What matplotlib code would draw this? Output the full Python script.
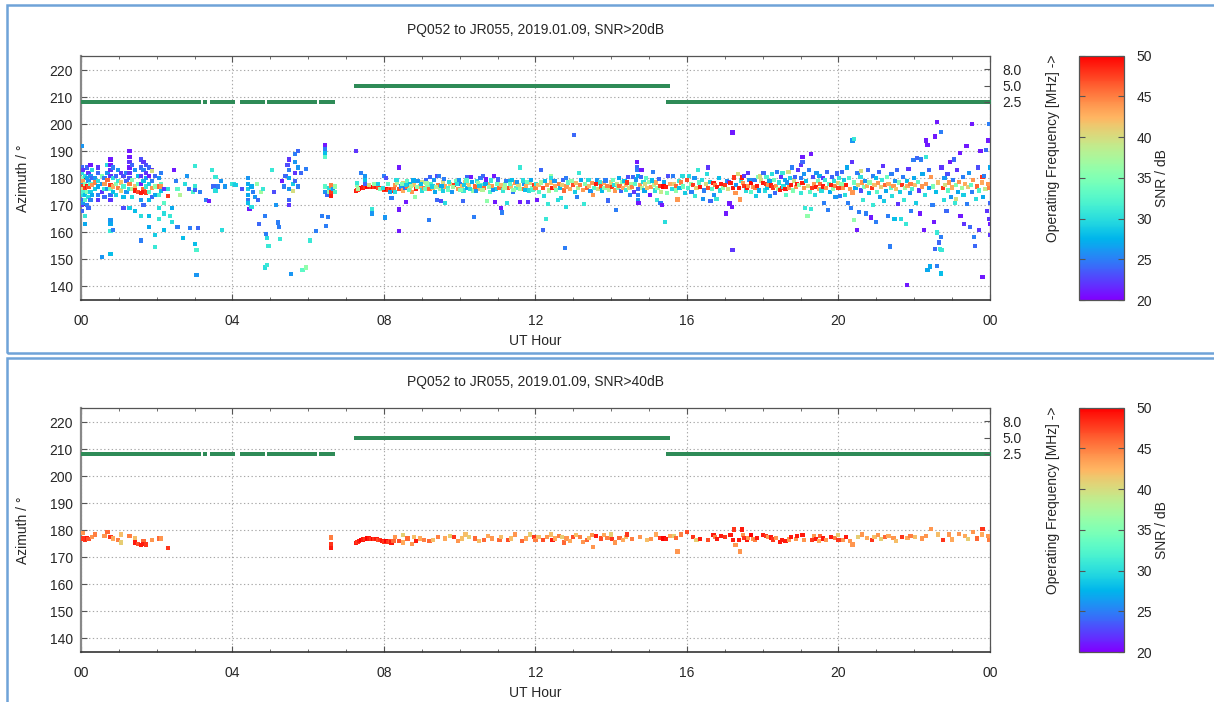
import numpy as np
import matplotlib
matplotlib.use("Agg")
import matplotlib.pyplot as plt
from matplotlib.patches import Rectangle

plt.rcParams['font.family'] = ['Liberation Sans', 'DejaVu Sans']

# --- spots: "hour azimuth snr" triples ---
seg_00_02 = """
0.02 192 26, 0.02 184 24, 0.02 182 30, 0.02 180 35, 0.02 178 28, 0.02 176 26, 0.02 174 30, 0.02 172 24,
0.02 170 22, 0.02 168 24, 0.05 183 22, 0.05 179 44, 0.05 177 48, 0.05 176 40, 0.05 175 32, 0.05 171 26,
0.10 181 30, 0.10 178 36, 0.10 176.5 48, 0.10 174 28, 0.10 172 33, 0.10 166 31, 0.10 163 27,
0.15 184 24, 0.15 180 27, 0.15 177 49, 0.15 175 35, 0.15 170 25, 0.20 182 22, 0.20 179 26, 0.20 176.8 47,
0.20 173 30, 0.20 169 24, 0.25 185 21, 0.25 181 26, 0.25 178 33, 0.25 175 29, 0.25 172 25,
0.30 183 30, 0.30 180 24, 0.30 177.5 44, 0.30 174 27, 0.38 180 26, 0.38 176 29, 0.38 178.5 45,
0.45 184 22, 0.45 182 24, 0.45 179 30, 0.45 177 27, 0.45 174 25, 0.45 172 22, 0.55 181 35, 0.55 178 26,
0.55 175 22, 0.55 151 26, 0.62 180 25, 0.62 178 44, 0.62 176 31, 0.62 173 24, 0.70 179.5 46, 0.70 185 30,
0.70 182 26, 0.70 176 26, 0.78 187 21, 0.78 185 21, 0.78 183 22, 0.78 181 22, 0.78 177.5 48, 0.78 176 34,
0.78 174 24, 0.78 172 22, 0.78 164.5 26, 0.78 163 27, 0.78 160.5 31, 0.78 152 28, 0.85 184 25, 0.85 180 30,
0.85 177 43, 0.85 175 28, 0.85 161 25, 0.92 178 36, 0.92 174 29, 0.92 181 24, 0.98 176.5 45, 0.98 183 26,
0.98 179 31, 1.05 178.5 42, 1.05 182 22, 1.05 175.5 41, 1.12 181 23, 1.12 177 32, 1.12 173 28, 1.12 169 23,
1.20 182 25, 1.20 179 24, 1.20 175 26, 1.28 190 21, 1.28 188 21, 1.28 186 22, 1.28 184 21, 1.28 182 22,
1.28 180 23, 1.28 178 25, 1.28 176 30, 1.28 169 29, 1.28 177.8 45, 1.35 185 24, 1.35 179.5 35, 1.35 176 38,
1.35 173 30, 1.42 183 26, 1.42 177 42, 1.42 175.5 49, 1.42 168 28, 1.50 175 47, 1.50 181 28, 1.50 178 33,
1.58 187 23, 1.58 184 24, 1.58 181 22, 1.58 178 21, 1.58 174.5 49, 1.58 172 26, 1.58 166 30, 1.58 157 25,
1.65 186 22, 1.65 183 25, 1.65 179 28, 1.65 176 46, 1.65 175 49, 1.65 170 24, 1.72 185 23, 1.72 182 22,
1.72 180 26, 1.72 177 31, 1.72 174.8 48, 1.80 184 24, 1.80 181 21, 1.80 178 29, 1.80 175 33, 1.80 172 28,
1.80 166 28, 1.80 162 27, 1.88 183 22, 1.88 179 25, 1.88 176.5 44, 1.88 173 24, 1.88 182.6 40,
1.95 181 24, 1.95 177 36, 1.95 174 27, 1.95 159 29, 1.95 154.5 31, 2.05 180 26, 2.05 177 46, 2.05 174 32,
2.05 169 30, 2.05 165 31, 2.12 182 25, 2.12 178 33, 2.12 175.5 28, 2.12 177 44, 2.20 176 22, 2.20 171 33,
2.20 167 30, 2.20 161 28, 2.30 173.6 48
"""

seg_02_07 = """
2.30 176 30, 2.35 166 31, 2.40 169 27, 2.40 164 30, 2.45 183 21, 2.50 179 25, 2.55 162 25, 2.55 176 33,
2.62 174 38, 2.70 158 28, 2.75 178 30, 2.80 181 26, 2.85 176 24, 2.88 161.5 25, 2.95 175 32, 3.00 184.7 31,
3.00 177 31, 3.00 175.7 24, 3.02 155.7 28, 3.05 153.5 32, 3.05 144.3 26, 3.10 161.5 24, 3.15 175 25,
3.30 172 25, 3.38 171.6 21, 3.45 183 31, 3.50 177 24, 3.55 180.6 31, 3.55 175.5 30, 3.62 177 25,
3.70 179 26, 3.72 161 30, 3.80 177 26, 4.00 178 31, 4.03 178 30, 4.08 177.5 29, 4.25 176 23,
4.40 180 26, 4.40 178 27, 4.40 176 29, 4.40 174 27, 4.40 172 25, 4.40 171 28, 4.45 168.6 21, 4.50 169.5 30,
4.50 177 27, 4.55 175 25, 4.60 173 26, 4.65 178 36, 4.68 172 24, 4.70 163 24, 4.75 175 37, 4.80 176 31,
4.85 166 25, 4.88 159.5 25, 4.92 158 30, 4.95 155 31, 4.85 147 30, 4.90 148 31, 5.05 183 31, 5.10 175 23,
5.15 170 26, 5.20 163.7 25, 5.22 162 25, 5.25 157.5 31, 5.30 179 21, 5.35 177 25, 5.40 181 24, 5.45 185 23,
5.50 187 22, 5.50 183 25, 5.50 180 27, 5.50 176 26, 5.50 172 24, 5.50 170 22, 5.55 144.6 26, 5.60 175.4 40,
5.60 178 29, 5.65 189 25, 5.65 186 26, 5.65 182 22, 5.65 179 24, 5.72 190 24, 5.72 184 26, 5.72 177 25,
5.80 182 24, 5.85 146 33, 5.95 147 36, 5.95 183.5 25, 6.04 157 31, 6.20 160.5 25, 6.37 166 25,
6.46 162.5 25, 6.53 165.6 25, 6.45 192.5 21, 6.45 191 25, 6.45 189.5 28, 6.45 188 33, 6.45 177 33,
6.45 175 26, 6.50 174 24, 6.55 176.5 30, 6.55 175 36, 6.60 177.4 45, 6.60 174.8 48, 6.60 173.6 49,
6.65 176 26, 6.70 175 32, 6.70 177 36
"""

seg_07_12 = """
7.27 175.4 49, 7.30 175.8 48, 7.35 176.2 49, 7.40 176.5 50, 7.45 176.6 49, 7.50 176.8 48, 7.55 177 50,
7.60 177 49, 7.65 176.8 48, 7.70 176.9 50, 7.75 176.8 48, 7.80 176.7 49, 7.85 176.5 47, 7.90 176.3 48,
7.95 176 49, 8.00 175.8 48, 8.05 176.2 50, 8.10 175.6 48, 8.15 176 47, 8.20 175.5 49, 8.25 176 46,
7.27 190 22, 7.28 177.5 36, 7.28 178.3 31, 7.32 176 38, 7.40 182 25, 7.50 181 26, 7.50 179.5 28,
7.50 178 24, 7.60 177.5 40, 7.68 168.7 31, 7.68 167 26, 7.75 177.8 36, 7.85 178 29, 7.90 176 35,
7.98 176.5 30, 8.00 181 25, 8.02 165.5 26, 8.05 180 23, 8.10 178 33, 8.15 175 27, 8.20 172.6 25,
8.30 177.5 44, 8.30 175 30, 8.35 178.5 38, 8.40 184 21, 8.40 176 47, 8.40 168.5 21, 8.40 160.5 21,
8.45 177 26, 8.50 178.2 41, 8.50 175.5 43, 8.55 176.5 24, 8.58 171.4 21, 8.60 179 33, 8.62 177 46,
8.68 176 39, 8.70 178 28, 8.75 175 44, 8.80 177.5 42, 8.82 173 36, 8.85 176 49, 8.90 179 26, 8.95 177 43,
9.00 175.5 30, 9.00 178.6 40, 9.05 176.5 45, 9.10 179.5 24, 9.15 177 35, 9.18 164.7 25, 9.20 176 46,
9.22 180.5 24, 9.25 178 32, 9.30 176.5 42, 9.35 175 27, 9.40 181 23, 9.40 172 24, 9.42 177.5 45,
9.45 180.8 25, 9.48 176 37, 9.50 171.6 23, 9.55 178.5 40, 9.55 175.5 29, 9.60 171 30, 9.62 177 43,
9.70 176.5 32, 9.75 178 41, 9.80 175 26, 9.85 177.5 48, 9.90 179 34, 9.95 176 44, 10.00 178 25,
10.05 177 42, 10.08 171.5 24, 10.10 175.5 31, 10.15 178.5 42, 10.20 180.5 24, 10.20 176.5 27,
10.25 177.5 41, 10.30 180.5 21, 10.35 175.5 36, 10.38 165.6 25, 10.40 177 46, 10.45 179 30, 10.50 176 42,
10.55 180.2 25, 10.58 177.5 33, 10.62 181 24, 10.65 176.5 46, 10.70 179.6 21, 10.72 171.5 36,
10.75 178 43, 10.80 175 33, 10.85 177 44, 10.90 181 21, 10.92 171.4 21, 10.95 176 29, 11.00 178.5 38,
11.05 176.5 46, 11.08 169 21, 11.10 177.5 42, 11.12 167.4 25, 11.15 175.5 31, 11.20 178 36, 11.25 171 30,
11.28 176.5 47, 11.30 179 28, 11.35 177 42, 11.40 175 25, 11.45 178.5 44, 11.50 176.5 32, 11.55 177.5 40,
11.60 184 31, 11.60 171.3 21, 11.65 176 46, 11.70 178 26, 11.75 177 43, 11.80 171.3 22, 11.82 175.5 30,
11.85 178.5 41, 11.90 176.5 35, 11.95 177.5 48,
8.33 179.3 30, 8.48 178 35, 8.57 177.5 29, 8.65 175.8 33, 8.72 177.3 38, 8.78 179.2 27, 8.88 176.8 36,
8.98 177.8 28, 9.08 176 34, 9.12 178.3 37, 9.28 177 29, 9.33 179.4 26, 9.38 176.8 38, 9.52 177.3 27,
9.58 179.8 25, 9.68 175.8 34, 9.72 178.6 30, 9.82 176.8 37, 9.92 177.8 30, 9.98 179.5 26, 10.02 175.8 35,
10.12 177.6 29, 10.18 179.2 33, 10.28 176 30, 10.32 178.6 27, 10.42 175.3 26, 10.48 178.2 36,
10.52 177.3 29, 10.60 175.8 38, 10.68 178 27, 10.78 176.8 36, 10.82 179.2 31, 10.88 175.8 26,
10.98 177.8 34, 11.02 179.6 24, 11.18 176.4 38, 11.22 179 25, 11.32 177.8 33, 11.38 179.4 28,
11.42 175.8 36, 11.52 178.8 26, 11.58 176.2 37, 11.68 179.2 30, 11.72 175.6 28, 11.78 178.7 34,
11.88 179.4 27, 11.92 175.8 32
"""

seg_12_16 = """
12.00 176.5 45, 12.02 178 31, 12.05 172 21, 12.08 177.5 42, 12.10 175 33, 12.14 183 24, 12.15 178.5 37,
12.20 161 24, 12.20 176.5 47, 12.22 173.6 30, 12.25 179 28, 12.28 165 31, 12.30 177.5 44, 12.32 170.6 31,
12.35 175.5 38, 12.40 181 36, 12.40 178.5 42, 12.42 180 30, 12.45 176.5 49, 12.50 179 26, 12.52 177 43,
12.55 175.8 35, 12.60 172 30, 12.62 178 45, 12.65 176.3 28, 12.68 172.6 30, 12.70 177.5 41, 12.72 179.5 24,
12.75 175.5 46, 12.78 154.2 25, 12.80 180 25, 12.80 169.5 30, 12.82 177 44, 12.85 178.5 33, 12.90 176 43,
12.95 179 36, 13.00 177.5 47, 13.02 196 24, 13.05 175 29, 13.08 178.3 42, 13.10 173 25, 13.12 176.5 38,
13.15 182 31, 13.18 177.5 45, 13.20 179.5 27, 13.25 175.8 44, 13.28 170.4 31, 13.30 178 35, 13.35 176.5 46,
13.40 179.3 30, 13.42 177.2 42, 13.45 175.3 26, 13.50 178.3 44, 13.52 174 44, 13.55 176.5 33, 13.60 177.8 49,
13.62 179.5 26, 13.65 176 40, 13.70 178.5 31, 13.72 177 47, 13.75 175.5 28, 13.80 178.2 43, 13.82 176.5 36,
13.85 179.2 25, 13.90 177.3 45, 13.92 171.8 24, 13.95 175.8 38, 14.00 178.5 41, 14.02 176.8 48,
14.05 179.5 34, 14.08 177.5 30, 14.10 175.5 44, 14.12 168.4 25, 14.15 178 40, 14.18 176.5 35, 14.20 180 27,
14.22 177.3 46, 14.25 175.3 24, 14.28 178.7 36, 14.30 176.3 43, 14.35 179 28, 14.38 177.5 42, 14.40 175.8 31,
14.42 178.5 48, 14.45 180.5 23, 14.48 176.5 40, 14.50 174 25, 14.52 178 37, 14.55 176.8 45, 14.58 180.6 24,
14.60 175 22, 14.62 177.8 33, 14.65 179.6 26, 14.68 186 21, 14.68 184 24, 14.68 183 25, 14.70 181 27,
14.70 176 24, 14.70 174 25, 14.70 172 26, 14.72 171 21, 14.75 177.5 44, 14.78 180.6 24, 14.80 183 21,
14.82 176.5 38, 14.85 178.8 30, 14.88 175.5 27, 14.90 177.8 40, 14.92 180 33, 14.95 176.3 42, 15.00 178.7 36,
15.02 174 21, 15.05 176.8 44, 15.08 179.2 28, 15.10 182.5 25, 15.12 177.5 38, 15.15 175.5 30, 15.18 178.5 43,
15.20 172 31, 15.22 176.5 36, 15.25 179.8 24, 15.28 177.2 48, 15.30 171 25, 15.32 175 39, 15.35 170 21,
15.38 177 50, 15.40 178.8 27, 15.42 164 30, 15.45 176.8 49, 15.48 174.5 35, 15.50 181 23
"""

seg_16_20 = """
15.55 177.8 43, 15.60 176 30, 15.62 181 25, 15.65 178 41, 15.70 175.5 36, 15.72 177.3 46, 15.75 172.2 44,
15.78 179 31, 15.80 176.5 28, 15.85 178.5 45, 15.88 181 30, 15.90 177 34, 15.95 174.5 29, 16.00 179.5 47,
16.02 176.5 32, 16.05 181 30, 16.10 178 36, 16.12 175 25, 16.15 177.5 48, 16.20 180 26, 16.22 173.5 31,
16.25 176.5 41, 16.30 183 31, 16.32 178.5 33, 16.35 176.8 49, 16.40 179.5 30, 16.42 172.5 26, 16.45 175.5 25,
16.50 177.8 40, 16.52 181.5 30, 16.55 184 22, 16.55 176.5 47, 16.60 178.8 29, 16.62 171.6 24, 16.65 176 33,
16.70 178.3 49, 16.72 174 26, 16.75 177.5 45, 16.78 172.4 31, 16.80 176.7 49, 16.85 180 28, 16.88 175.5 30,
16.90 178 49, 16.95 176.5 36, 17.00 177.7 48, 17.02 167 21, 17.05 179 26, 17.08 176 40, 17.10 178.6 22,
17.12 170.7 21, 17.15 178.2 49, 17.18 169.5 21, 17.20 197 21, 17.20 153.6 22, 17.22 176.5 49, 17.25 180.3 48,
17.28 174.7 44, 17.30 177.5 26, 17.35 181.5 40, 17.38 176.5 49, 17.40 172.2 44, 17.42 179 31, 17.45 180.3 49,
17.48 178.3 44, 17.50 181 22, 17.52 177.3 48, 17.55 175.5 30, 17.58 176.3 49, 17.60 182 22, 17.62 177.3 44,
17.65 179.5 26, 17.68 178.3 50, 17.70 175 33, 17.75 176.8 44, 17.78 179.5 25, 17.80 176.5 45, 17.82 173.5 29,
17.85 177.3 49, 17.88 180.5 35, 17.90 175.5 27, 17.92 180.7 40, 17.95 179 40,
18.00 178.2 49, 18.02 182 24, 18.05 175.5 30, 18.08 178 48, 18.10 180.5 32, 18.12 176.5 28, 18.15 177.5 44,
18.18 179 27, 18.20 173.5 26, 18.22 177.4 49, 18.25 181.5 30, 18.28 176.6 48, 18.30 179.5 34, 18.32 174.5 24,
18.35 177.3 44, 18.38 182.5 25, 18.40 176 37, 18.42 178.5 30, 18.45 175.8 49, 18.48 180.5 22, 18.50 176.5 49,
18.52 182 31, 18.55 177 30, 18.58 179.5 27, 18.60 176 49, 18.62 174 33, 18.65 178.5 26, 18.68 182.3 40,
18.70 176.6 44, 18.72 180 29, 18.75 177.6 49, 18.78 184 25, 18.80 175.5 35, 18.82 179 40, 18.85 180.5 24,
18.88 176.7 44, 18.90 178 49, 18.92 183 22, 18.95 177.5 37, 19.00 185 22, 19.00 180 25, 19.02 174.5 31,
19.05 188 21, 19.05 186 24, 19.05 178.3 49, 19.08 181.5 26, 19.10 176.5 44, 19.12 169 31, 19.15 179 28,
19.18 166 36, 19.20 177.3 40, 19.22 183 25, 19.25 175 33, 19.28 189 21, 19.28 168.7 31, 19.30 176.5 48,
19.32 180.5 23, 19.35 178 44, 19.38 174 30, 19.40 176.8 49, 19.42 182 26, 19.45 179 34, 19.48 176 43,
19.50 181 27, 19.52 177.8 46, 19.55 175.5 30, 19.58 180 22, 19.60 177 49, 19.62 171 25, 19.65 179.5 31,
19.68 176.5 44, 19.70 182.5 24, 19.72 168.3 25, 19.75 178 33, 19.78 175 27, 19.80 177.6 49, 19.82 180.5 24,
19.85 176.2 36, 19.88 179 30, 19.90 177.2 45, 19.92 173 26, 19.95 181.8 24, 19.98 178.2 41
"""

seg_20_24 = """
20.00 176.5 48, 20.02 180 31, 20.05 173.5 25, 20.08 178 36, 20.10 182.5 24, 20.12 176.5 44, 20.15 179.5 29,
20.18 174 30, 20.20 177.5 49, 20.22 184 27, 20.25 171 25, 20.28 180 32, 20.30 176 44, 20.32 169 25,
20.35 186 22, 20.37 194 26, 20.37 174.8 44, 20.40 194.5 31, 20.40 178.5 34, 20.42 164.6 36, 20.45 176.5 27,
20.48 160.9 21, 20.50 182 25, 20.52 177.5 41, 20.55 167.5 25, 20.58 180.5 30, 20.60 182.7 40, 20.60 175.5 23,
20.62 178.5 44, 20.65 172 31, 20.68 176.7 35, 20.70 179 26, 20.72 167 25, 20.75 177.2 43, 20.78 183 24,
20.80 174.5 28, 20.82 178.5 36, 20.85 165.5 21, 20.88 176.5 48, 20.90 181 25, 20.92 170 31, 20.95 177.5 42,
20.98 164 25, 21.00 180 28, 21.02 175 33, 21.05 178.3 44, 21.08 182.5 24, 21.10 173 26, 21.12 176.8 41,
21.15 179.5 31, 21.18 184.5 22, 21.20 171.5 29, 21.22 177.5 46, 21.25 175.3 27, 21.28 180.5 34, 21.30 166 25,
21.32 178 43, 21.35 154.8 25, 21.38 176.3 33, 21.40 181.5 25, 21.42 173.5 30, 21.45 177.2 44, 21.48 165 28,
21.50 179 26, 21.52 176 42, 21.55 183 24, 21.58 170.5 22, 21.60 178.5 35, 21.62 175 29, 21.65 165 30,
21.68 177.5 48, 21.70 180.5 25, 21.72 172 31, 21.75 176.5 37, 21.78 163 31, 21.80 140.6 21, 21.80 179 28,
21.82 177.2 43, 21.85 183.5 22, 21.88 174.5 26, 21.90 178 45, 21.92 168 25, 21.95 176 32, 21.98 186.7 25,
22.00 180 27, 22.02 177.5 42, 22.05 171 29, 22.08 187.5 24, 22.10 178.8 33, 22.12 175.5 22, 22.15 167 21,
22.18 187 25, 22.20 177 44, 22.22 181.5 27, 22.25 161 21, 22.28 174 30, 22.30 194 21, 22.30 188 31,
22.32 178 44, 22.35 192.3 21, 22.35 146 27, 22.38 176.5 26, 22.40 183 24, 22.42 147.4 27, 22.45 180.5 44,
22.48 170 25, 22.50 177 35, 22.52 164 21, 22.55 195.5 21, 22.55 154 24, 22.58 175 28, 22.60 201 21,
22.60 147.7 25, 22.60 160 31, 22.62 178.5 42, 22.65 156.3 24, 22.68 154 31, 22.70 197.3 25, 22.70 144.8 28,
22.70 158.3 25, 22.72 184 22, 22.72 153.5 31, 22.75 176.5 48, 22.78 172 30, 22.80 180 26, 22.82 177.5 40,
22.85 168 24, 22.88 181.5 23, 22.90 175.5 33, 22.92 178.5 44, 22.95 186 21, 22.98 173 26, 23.00 176.6 43,
23.02 179.5 25, 23.05 187 24, 23.08 171 31, 23.10 172.5 40, 23.10 177.5 35, 23.12 183 22, 23.15 175 27,
23.18 178.6 44, 23.20 189.4 21, 23.22 166 21, 23.25 176.5 37, 23.28 180.5 25, 23.30 174 29, 23.32 163 22,
23.35 178 43, 23.38 192 21, 23.40 170.5 25, 23.42 176.8 41, 23.45 182 26, 23.48 162 24, 23.50 177.5 33,
23.52 200 21, 23.52 175 25, 23.55 179.5 44, 23.58 158.3 25, 23.60 155 24, 23.62 172.5 30, 23.65 177 46,
23.68 184 23, 23.70 161 22, 23.72 175.5 32, 23.75 190 21, 23.78 178.5 43, 23.80 143.5 21, 23.80 180.5 48,
23.82 173 27, 23.85 181 25, 23.88 176 39, 23.90 190.5 24, 23.92 168 22, 23.95 178 44, 23.96 194 21,
23.97 165 22, 23.98 200 25, 23.98 176.5 45, 23.99 163 21, 23.99 159 22, 23.99 184 27, 23.99 171 24
"""

# operating frequency schedule (start hour, end hour, MHz)
band_start = [0.0, 3.27, 3.46, 4.25, 4.96, 5.36, 6.18, 6.34, 7.26, 15.5]
band_end = [3.14, 3.27, 4.07, 4.86, 5.33, 6.10, 6.18, 6.73, 15.5, 24.0]
band_mhz = [2.5, 2.5, 2.5, 2.5, 2.5, 2.5, 2.5, 2.5, 5.0, 2.5]
band_step = 0.08

freq_labels = ['8.0', '5.0', '2.5']
freq_level = {'8.0': 220.3, '5.0': 214.3, '2.5': 208.3}

hour_ticks = [0, 4, 8, 12, 16, 20, 24]
hour_labels = ['00', '04', '08', '12', '16', '20', '00']
az_ticks = [140, 150, 160, 170, 180, 190, 200, 210, 220]
snr_ticks = [20, 25, 30, 35, 40, 45, 50]

titles = ['PQ052 to JR055, 2019.01.09, SNR>20dB', 'PQ052 to JR055, 2019.01.09, SNR>40dB']
snr_min = [20, 40]


def parse(block):
    rows = [p.split() for p in block.replace('\n', ' ').split(',') if p.strip()]
    return np.array(rows, dtype=float)


spots = np.vstack([parse(s) for s in (seg_00_02, seg_02_07, seg_07_12, seg_12_16, seg_16_20, seg_20_24)])

W, H = 1214, 702
fig = plt.figure(figsize=(W / 100, H / 100), dpi=100)
fig.patch.set_facecolor('white')

frame_col = '#6fa3d8'
fig.patches.append(Rectangle((7 / W, 1 - 353 / H), 1.2, 348 / H, transform=fig.transFigure,
                             fill=False, edgecolor=frame_col, linewidth=1.8))
fig.patches.append(Rectangle((7 / W, -0.05), 1.2, 1 - 358 / H + 0.05, transform=fig.transFigure,
                             fill=False, edgecolor=frame_col, linewidth=1.8))

txt = '#262626'
grid_kw = dict(color='#a8a8a8', linestyle=(0, (1.2, 2.2)), linewidth=0.8)

for k in range(2):
    off = 352 * k
    top_px, bot_px = 55.7 + off, 300 + off
    ax = fig.add_axes([81 / W, 1 - bot_px / H, (990 - 81) / W, (bot_px - top_px) / H])
    ax.set_xlim(0, 24)
    ax.set_ylim(135, 225.4)

    # frequency markers
    for s, e, f in zip(band_start, band_end, band_mhz):
        t = np.arange(s, e + 1e-6, band_step)
        ax.scatter(t, np.full_like(t, freq_level['%.1f' % f]), marker='s', s=6,
                   color='#2e8b57', linewidths=0, zorder=3)

    sel = spots[spots[:, 2] > snr_min[k]]
    sc = ax.scatter(sel[:, 0], sel[:, 1], c=sel[:, 2], cmap='rainbow', vmin=20, vmax=50,
                    marker='s', s=9, linewidths=0, zorder=4)

    ax.set_xticks(hour_ticks)
    ax.set_xticklabels(hour_labels)
    ax.set_xticks(np.arange(0, 25, 1), minor=True)
    ax.set_yticks(az_ticks)
    ax.tick_params(which='both', direction='in', top=True, right=False, labelsize=10,
                   colors='#555555', labelcolor=txt)
    ax.tick_params(which='major', length=4, pad=6)
    ax.tick_params(axis='x', which='major', pad=10)
    ax.tick_params(which='minor', length=2.5)
    ax.grid(True, which='major', **grid_kw)
    for side in ax.spines:
        ax.spines[side].set_color('#555555')
        ax.spines[side].set_linewidth(0.9)
    ax.spines['left'].set_color('#888888')
    ax.spines['left'].set_linewidth(1.6)
    ax.spines['bottom'].set_color('#333333')
    ax.spines['bottom'].set_linewidth(1.2)

    ax.set_ylabel('Azimuth / °', fontsize=10, color=txt)
    ax.yaxis.set_label_coords(-0.056, 0.5)
    ax.set_xlabel('UT Hour', fontsize=10, color=txt)
    ax.xaxis.set_label_coords(0.5, -0.138)

    ax2 = ax.twinx()
    ax2.set_ylim(ax.get_ylim())
    ax2.set_yticks([freq_level[l] for l in freq_labels])
    ax2.set_yticklabels(freq_labels)
    ax2.tick_params(direction='in', length=4, pad=9, labelsize=10, colors='#555555', labelcolor=txt)
    for side in ax2.spines:
        ax2.spines[side].set_visible(False)

    fig.text(535.5 / W, 1 - (30 + off) / H, titles[k], ha='center', va='center', fontsize=10, color=txt)
    fig.text(1053 / W, 1 - (148 + off) / H, 'Operating Frequency [MHz] ->', rotation=90,
             ha='center', va='center', fontsize=10, color=txt)
    fig.text(1162 / W, 1 - (178 + off) / H, 'SNR / dB', rotation=90,
             ha='center', va='center', fontsize=10, color=txt)

    cax = fig.add_axes([1079 / W, 1 - bot_px / H, 45 / W, (bot_px - top_px) / H])
    cb = fig.colorbar(sc, cax=cax, ticks=snr_ticks)
    cb.outline.set_edgecolor('#555555')
    cb.outline.set_linewidth(0.9)
    cax.tick_params(direction='in', length=4, labelsize=10, colors='#555555', labelcolor=txt,
                    left=True, right=True, pad=9)

fig.savefig('out.png', dpi=100)
